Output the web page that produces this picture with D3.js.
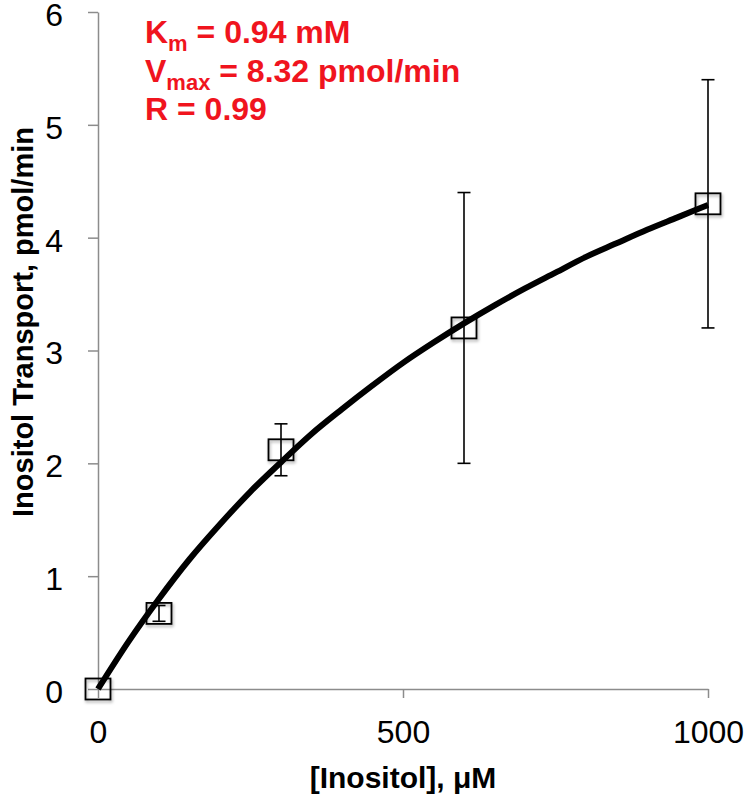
<!DOCTYPE html>
<html>
<head>
<meta charset="utf-8">
<script src="https://cdn.jsdelivr.net/npm/d3@7"></script>
<style>
  html, body { margin: 0; padding: 0; background: #fff; }
  svg { display: block; font-family: "Liberation Sans", Arial, Helvetica, sans-serif; }
</style>
</head>
<body>
<svg id="chart" width="750" height="796"></svg>
<script>
// ---- data ----
const concentrations = [0, 100, 300, 600, 1000];          // µM
const transport      = [0, 0.67, 2.12, 3.2, 4.3];          // pmol/min
const errors         = [0, 0.07, 0.23, 1.2, 1.1];          // ± error
const fitX = [0, 50, 100, 150, 200, 250, 300, 350, 400, 450, 500, 550, 600, 650, 700, 750, 800, 850, 900, 950, 1000];
const fitY = [0, 0.42, 0.80, 1.15, 1.46, 1.75, 2.01, 2.26, 2.48, 2.69, 2.89, 3.07, 3.24, 3.40, 3.55, 3.69, 3.83, 3.95, 4.07, 4.18, 4.29];
const xTicks = [0, 500, 1000];
const yTicks = [0, 1, 2, 3, 4, 5, 6];
const xTitle = "[Inositol], \u03BCM";
const yTitle = "Inositol Transport, pmol/min";
const annotations = [
  { main: "K", sub: "m", rest: " = 0.94 mM" },
  { main: "V", sub: "max", rest: " = 8.32 pmol/min" },
  { main: "R = 0.99", sub: "", rest: "" }
];

// ---- layout ----
const svg = d3.select("#chart");
const x = d3.scaleLinear().domain([0, 1000]).range([98, 708]);
const y = d3.scaleLinear().domain([0, 6]).range([689, 12]);
const axisColor = "#8c8c8c";

const defs = svg.append("defs");
const f = defs.append("filter").attr("id", "shadow").attr("x", "-30%").attr("y", "-30%").attr("width", "160%").attr("height", "160%");
f.append("feDropShadow").attr("dx", 1).attr("dy", 2).attr("stdDeviation", 1.5).attr("flood-color", "#000").attr("flood-opacity", 0.35);

// y axis
const yAxis = svg.append("g").attr("transform", `translate(${x(0)},0)`)
  .call(d3.axisLeft(y).tickValues(yTicks).tickSize(10).tickSizeOuter(0).tickPadding(25).tickFormat(d3.format("d")));
yAxis.selectAll(".tick text").attr("dy", "0.42em");
// x axis
const xAxis = svg.append("g").attr("transform", `translate(0,${y(0)})`)
  .call(d3.axisBottom(x).tickValues(xTicks).tickSize(9).tickSizeOuter(0).tickPadding(22).tickFormat(d3.format("d")));
[yAxis, xAxis].forEach(g => {
  g.select(".domain").attr("stroke", axisColor).attr("stroke-width", 1.5);
  g.selectAll(".tick line").attr("stroke", axisColor).attr("stroke-width", 1.5);
  g.selectAll(".tick text").attr("fill", "#000").style("font-size", "32px").style("font-family", "'Liberation Sans', Arial, sans-serif");
});

// markers (unfilled squares)
const pts = concentrations.map((c, i) => ({ c, v: transport[i], e: errors[i] }));
const mw = 25, mh = 21;
svg.append("g").selectAll("rect").data(pts).join("rect")
  .attr("x", d => x(d.c) - mw / 2)
  .attr("y", d => y(d.v) - mh / 2)
  .attr("width", mw).attr("height", mh)
  .attr("fill", "none").attr("stroke", "#000").attr("stroke-width", 1.8)
  .attr("filter", "url(#shadow)");

// error bars
const eb = svg.append("g").attr("stroke", "#000").attr("stroke-width", 1.6);
const capW = 13;
pts.filter(d => d.e > 0).forEach(d => {
  eb.append("line").attr("x1", x(d.c)).attr("x2", x(d.c)).attr("y1", y(d.v - d.e)).attr("y2", y(d.v + d.e));
  eb.append("line").attr("x1", x(d.c) - capW / 2).attr("x2", x(d.c) + capW / 2).attr("y1", y(d.v + d.e)).attr("y2", y(d.v + d.e));
  eb.append("line").attr("x1", x(d.c) - capW / 2).attr("x2", x(d.c) + capW / 2).attr("y1", y(d.v - d.e)).attr("y2", y(d.v - d.e));
});

// fit curve
const line = d3.line().x((d, i) => x(fitX[i])).y(d => y(d)).curve(d3.curveMonotoneX);
svg.append("path").datum(fitY).attr("d", line)
  .attr("fill", "none").attr("stroke", "#000").attr("stroke-width", 6).attr("stroke-linecap", "butt");

// axis titles
svg.append("text").attr("x", (x(0) + x(1000)) / 2).attr("y", 788).attr("text-anchor", "middle")
  .style("font-size", "30px").style("font-weight", "bold").text(xTitle);
svg.append("text").attr("transform", `translate(33,322) rotate(-90)`).attr("text-anchor", "middle")
  .style("font-size", "29px").style("font-weight", "bold").text(yTitle);

// annotations
const ann = svg.append("g").attr("fill", "#f0141e").style("font-weight", "bold");
const baselines = [43, 82, 120];
annotations.forEach((a, i) => {
  const t = ann.append("text").attr("x", 145).attr("y", baselines[i]).style("font-size", "32px");
  t.append("tspan").text(a.main);
  if (a.sub) {
    t.append("tspan").attr("dy", 8).style("font-size", "22px").text(a.sub);
    t.append("tspan").attr("dy", -8).text(a.rest);
  }
});
</script>
</body>
</html>
